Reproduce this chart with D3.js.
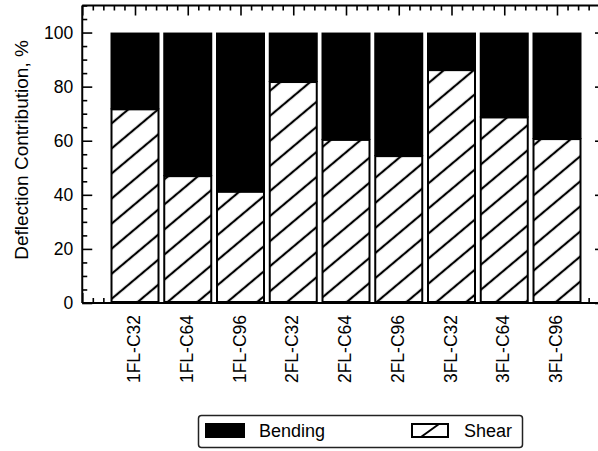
<!DOCTYPE html>
<html>
<head>
<meta charset="utf-8">
<script src="https://cdn.jsdelivr.net/npm/d3@7"></script>
<style>
  html, body { margin: 0; padding: 0; background: #fff; }
  svg { display: block; font-family: "Liberation Sans", Arial, Helvetica, sans-serif; }
</style>
</head>
<body>
<svg id="chart" width="598" height="451"></svg>
<script>
// Specimen groups and their deflection split (percent of total deflection)
const categories = ["1FL-C32", "1FL-C64", "1FL-C96", "2FL-C32", "2FL-C64", "2FL-C96", "3FL-C32", "3FL-C64", "3FL-C96"];
const shearValues   = [71.6, 46.9, 41.1, 81.7, 60.3, 54.3, 86.1, 68.6, 60.6];
const bendingValues = [28.4, 53.1, 58.9, 18.3, 39.7, 45.7, 13.9, 31.4, 39.4];
const yTickValues = [0, 20, 40, 60, 80, 100];
const seriesNames = ["Bending", "Shear"];

const svg = d3.select("#chart");

// Scales: categories sit at integer positions 1..9 on a 0..10 numeric axis
const x = d3.scaleLinear().domain([0, 10]).range([82.25, 609.75]);
const y = d3.scaleLinear().domain([0, 110]).range([303, 5.5]);
const frameLeft = x(0), frameRight = 605, frameTop = y(110), frameBottom = y(0);
const barWidth = 49;

// Diagonal hatch for the shear portion
const defs = svg.append("defs");
const hatch = defs.append("pattern")
  .attr("id", "hatch")
  .attr("patternUnits", "userSpaceOnUse")
  .attr("width", 20).attr("height", 19.2)
  .attr("patternTransform", "translate(0,4) rotate(-40)");
hatch.append("rect").attr("width", 20).attr("height", 19.2).attr("fill", "#fff");
hatch.append("line")
  .attr("x1", -1).attr("x2", 21).attr("y1", 9.6).attr("y2", 9.6)
  .attr("stroke", "#000").attr("stroke-width", 2.2);

// Tick helpers
const xMinor = d3.range(0, 10.001, 0.2).filter(v => Math.abs(v - Math.round(v)) > 1e-6);
const xMajor = d3.range(0, 11, 1);
const yMinor = d3.range(0, 110.001, 5).filter(v => v % 20 !== 0);
const yMajor = d3.range(0, 111, 20);

function styleAxis(g) {
  g.select(".domain").remove();
  g.selectAll(".tick line").attr("stroke", "#000").attr("stroke-width", 1.6);
}

// Top axis (ticks pointing down)
svg.append("g").attr("transform", `translate(0,${frameTop})`)
  .call(d3.axisTop(x).tickValues(xMinor).tickSize(-5).tickFormat("")).call(styleAxis);
svg.append("g").attr("transform", `translate(0,${frameTop})`)
  .call(d3.axisTop(x).tickValues(xMajor).tickSize(-10).tickFormat("")).call(styleAxis);

// Bottom axis (ticks pointing up) with rotated category labels
svg.append("g").attr("transform", `translate(0,${frameBottom})`)
  .call(d3.axisBottom(x).tickValues(xMinor).tickSize(-5).tickFormat("")).call(styleAxis);
const xLabelAxis = svg.append("g").attr("transform", `translate(0,${frameBottom})`)
  .call(d3.axisBottom(x).tickValues(xMajor).tickSize(-10)
    .tickFormat(d => (d >= 1 && d <= categories.length) ? categories[d - 1] : ""))
  .call(styleAxis);
xLabelAxis.selectAll(".tick text")
  .attr("transform", "rotate(-90)")
  .attr("text-anchor", "end")
  .attr("x", -12).attr("y", 4.5).attr("dy", 0)
  .attr("fill", "#000").style("font-size", "17.5px");

// Left axis (ticks pointing right) with value labels
svg.append("g").attr("transform", `translate(${frameLeft},0)`)
  .call(d3.axisLeft(y).tickValues(yMinor).tickSize(-5).tickFormat("")).call(styleAxis);
svg.append("g").attr("transform", `translate(${frameLeft},0)`)
  .call(d3.axisLeft(y).tickValues(yTickValues.concat([])).tickSize(-10).tickPadding(9).tickFormat(d3.format("d")))
  .call(styleAxis)
  .selectAll(".tick text").attr("fill", "#000").style("font-size", "17.5px");

// Right axis (ticks pointing left)
svg.append("g").attr("transform", `translate(${frameRight},0)`)
  .call(d3.axisRight(y).tickValues(yMinor).tickSize(-5).tickFormat("")).call(styleAxis);
svg.append("g").attr("transform", `translate(${frameRight},0)`)
  .call(d3.axisRight(y).tickValues(yMajor).tickSize(-10).tickFormat("")).call(styleAxis);

// Stacked bars: shear at the bottom (hatched), bending on top (solid)
const bars = svg.append("g").selectAll("g.bar")
  .data(categories.map((c, i) => ({ c, i, shear: shearValues[i], bending: bendingValues[i] })))
  .join("g").attr("class", "bar");

bars.append("rect")
  .attr("x", d => x(d.i + 1) - barWidth / 2)
  .attr("y", d => y(d.shear + d.bending))
  .attr("width", barWidth)
  .attr("height", d => y(d.shear) - y(d.shear + d.bending))
  .attr("fill", "#000");

bars.append("rect")
  .attr("x", d => x(d.i + 1) - barWidth / 2 + 1)
  .attr("y", d => y(d.shear))
  .attr("width", barWidth - 2)
  .attr("height", d => y(0) - y(d.shear) - 1)
  .attr("fill", "url(#hatch)")
  .attr("stroke", "#000").attr("stroke-width", 2);

// Frame lines
const frame = svg.append("g").attr("stroke", "#000").attr("stroke-width", 2).attr("fill", "none");
frame.append("line").attr("x1", frameLeft).attr("x2", frameRight + 10).attr("y1", frameTop).attr("y2", frameTop);
frame.append("line").attr("x1", frameLeft).attr("x2", frameRight + 10).attr("y1", frameBottom).attr("y2", frameBottom);
frame.append("line").attr("x1", frameLeft).attr("x2", frameLeft).attr("y1", frameTop).attr("y2", frameBottom);
frame.append("line").attr("x1", frameRight).attr("x2", frameRight).attr("y1", frameTop).attr("y2", frameBottom);

// Y axis title
svg.append("text")
  .attr("transform", `translate(28,150) rotate(-90)`)
  .attr("text-anchor", "middle")
  .style("font-size", "19px")
  .attr("fill", "#000")
  .text("Deflection Contribution, %");

// Legend
const legend = svg.append("g");
legend.append("rect")
  .attr("x", 198.5).attr("y", 415.5).attr("width", 324).attr("height", 32).attr("rx", 3)
  .attr("fill", "#fff").attr("stroke", "#222").attr("stroke-width", 1.5);
legend.append("rect").attr("x", 205).attr("y", 423).attr("width", 40).attr("height", 15).attr("fill", "#000");
legend.append("text").attr("x", 259).attr("y", 436.5).style("font-size", "18px").attr("fill", "#000").text(seriesNames[0]);
legend.append("rect").attr("x", 412).attr("y", 424).attr("width", 36).attr("height", 13)
  .attr("fill", "#fff").attr("stroke", "#000").attr("stroke-width", 2);
legend.append("line").attr("x1", 421).attr("y1", 437).attr("x2", 439).attr("y2", 424)
  .attr("stroke", "#000").attr("stroke-width", 2);
legend.append("text").attr("x", 464).attr("y", 436.5).style("font-size", "18px").attr("fill", "#000").text(seriesNames[1]);
</script>
</body>
</html>
